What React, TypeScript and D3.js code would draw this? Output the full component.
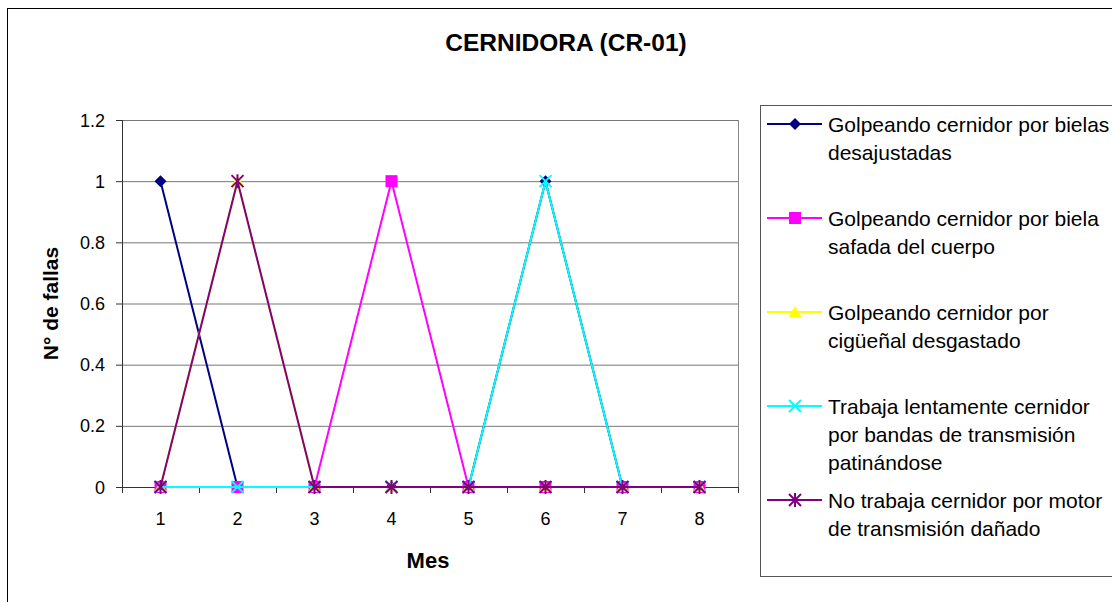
import React from 'react';
import * as d3 from 'd3';

// ---- data ----
const months = ['1', '2', '3', '4', '5', '6', '7', '8'];
const yTicks = [0, 0.2, 0.4, 0.6, 0.8, 1, 1.2];

const bielasDesajustadas = [1, 0, 0, 0, 0, 1, 0, 0];
const bielaSafada = [0, 0, 0, 1, 0, 0, 0, 0];
const ciguenalDesgastado = [0, 1, 0, 0, 0, 0, 0, 0];
const bandasPatinando = [0, 0, 0, 0, 0, 1, 0, 0];
const motorDanado = [0, 1, 0, 0, 0, 0, 0, 0];

const legendLabels = [
  ['Golpeando cernidor por bielas', 'desajustadas'],
  ['Golpeando cernidor por biela', 'safada del cuerpo'],
  ['Golpeando cernidor por', 'cigüeñal desgastado'],
  ['Trabaja lentamente cernidor', 'por bandas de transmisión', 'patinándose'],
  ['No trabaja cernidor por motor', 'de transmisión dañado'],
];

const series = [
  { values: bielasDesajustadas, color: '#000080', marker: 'diamond' },
  { values: bielaSafada, color: '#FF00FF', marker: 'square' },
  { values: ciguenalDesgastado, color: '#FFFF00', marker: 'triangle' },
  { values: bandasPatinando, color: '#00FFFF', marker: 'x' },
  { values: motorDanado, color: '#800080', marker: 'star' },
];

const FONT = '"Liberation Sans", Arial, sans-serif';

const Marker = ({ type, color, x, y }: { type: string; color: string; x: number; y: number }) => {
  if (type === 'diamond') {
    return <path d={`M${x},${y - 6}L${x + 6},${y}L${x},${y + 6}L${x - 6},${y}Z`} fill={color} />;
  }
  if (type === 'square') {
    return <rect x={x - 6} y={y - 6} width={12} height={12} fill={color} />;
  }
  if (type === 'triangle') {
    return <path d={`M${x},${y - 6}L${x + 6.5},${y + 5}L${x - 6.5},${y + 5}Z`} fill={color} />;
  }
  if (type === 'x') {
    return (
      <path
        d={`M${x - 6},${y - 6}L${x + 6},${y + 6}M${x + 6},${y - 6}L${x - 6},${y + 6}`}
        stroke={color}
        strokeWidth={2}
      />
    );
  }
  // asterisk
  return (
    <path
      d={`M${x - 6},${y - 6}L${x + 6},${y + 6}M${x + 6},${y - 6}L${x - 6},${y + 6}M${x},${y - 7}L${x},${y + 7}`}
      stroke={color}
      strokeWidth={2}
    />
  );
};

const App = () => {
  const width = 1112;
  const height = 602;
  const plot = { left: 122, right: 738, top: 120, bottom: 487 };

  const x = d3.scaleBand().domain(months).range([plot.left, plot.right]);
  const cx = (m: string) => (x(m) as number) + x.bandwidth() / 2;
  const y = d3.scaleLinear().domain([0, 1.2]).range([plot.bottom, plot.top]);

  const line = d3
    .line<number>()
    .x((_, i) => cx(months[i]))
    .y((d) => y(d));

  const legendX = 760;
  const legendRows = [124, 218, 312, 406, 500];
  const rowGap = 28;

  return (
    <svg
      width={width}
      height={height}
      style={{ position: 'absolute', left: 0, top: 0, background: '#fff' }}
      fontFamily={FONT}
    >
      {/* outer chart border */}
      <rect x={7.5} y={8.5} width={1200} height={700} fill="#fff" stroke="#000" strokeWidth={1} />

      {/* title */}
      <text x={566} y={51} textAnchor="middle" fontSize={24.5} fontWeight="bold">
        CERNIDORA (CR-01)
      </text>

      {/* gridlines */}
      {yTicks.map((t) => (
        <line
          key={t}
          x1={plot.left}
          x2={plot.right}
          y1={y(t) + 0.5}
          y2={y(t) + 0.5}
          stroke={t === 0 ? '#333' : '#777'}
          strokeWidth={1}
        />
      ))}
      {/* plot area right border */}
      <line x1={plot.right + 0.5} x2={plot.right + 0.5} y1={plot.top} y2={plot.bottom} stroke="#888" />
      {/* y axis */}
      <line x1={plot.left + 0.5} x2={plot.left + 0.5} y1={plot.top} y2={plot.bottom + 1} stroke="#333" />
      {yTicks.map((t) => (
        <g key={'yt' + t}>
          <line x1={plot.left - 6} x2={plot.left} y1={y(t) + 0.5} y2={y(t) + 0.5} stroke="#333" />
          <text x={105} y={y(t) + 6.5} textAnchor="end" fontSize={18}>
            {String(t)}
          </text>
        </g>
      ))}
      {/* x axis ticks */}
      {months.concat(['end']).map((m, i) => {
        const xx = i < months.length ? (x(m) as number) : plot.right;
        return (
          <line key={'xt' + i} x1={xx + 0.5} x2={xx + 0.5} y1={plot.bottom} y2={plot.bottom + 6} stroke="#333" />
        );
      })}
      {months.map((m) => (
        <text key={'xl' + m} x={cx(m)} y={525} textAnchor="middle" fontSize={18}>
          {m}
        </text>
      ))}

      {/* axis titles */}
      <text x={plot.left + (plot.right - plot.left) / 2 - 2} y={568} textAnchor="middle" fontSize={22} fontWeight="bold">
        Mes
      </text>
      <text
        transform={`translate(58,${(plot.top + plot.bottom) / 2}) rotate(-90)`}
        textAnchor="middle"
        fontSize={21}
        fontWeight="bold"
      >
        N° de fallas
      </text>

      {/* series */}
      {series.map((s, si) => (
        <g key={'s' + si}>
          <path d={line(s.values) || ''} fill="none" stroke={s.color} strokeWidth={2} />
          {s.values.map((v, i) => (
            <Marker key={i} type={s.marker} color={s.color} x={cx(months[i])} y={y(v)} />
          ))}
        </g>
      ))}

      {/* legend */}
      <rect x={legendX + 0.5} y={105.5} width={500} height={471} fill="#fff" stroke="#555" />
      {series.map((s, si) => {
        const ry = legendRows[si];
        return (
          <g key={'lg' + si}>
            <line x1={767} x2={822} y1={ry} y2={ry} stroke={s.color} strokeWidth={2} />
            <Marker type={s.marker} color={s.color} x={795} y={ry} />
            {legendLabels[si].map((txt, li) => (
              <text key={li} x={828} y={ry + li * rowGap + 7.5} fontSize={21}>
                {txt}
              </text>
            ))}
          </g>
        );
      })}
    </svg>
  );
};

export default App;
